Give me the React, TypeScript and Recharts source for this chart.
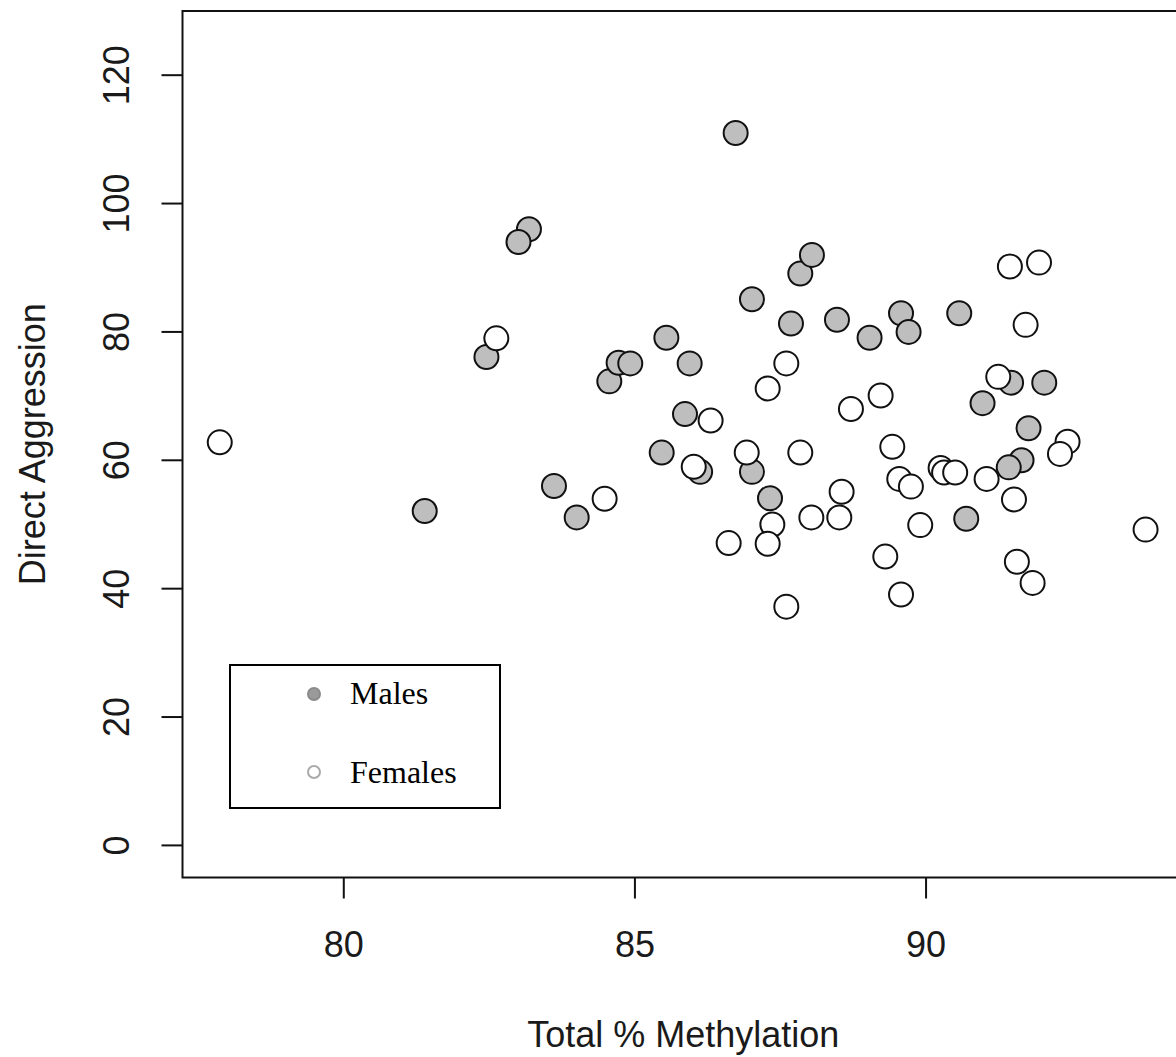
import { ScatterChart, Scatter, XAxis, YAxis, ReferenceArea, Legend } from 'recharts'

// Total % Methylation / Direct Aggression
const malesX = [
  86.73, 83.18, 83.0, 82.45, 81.39, 83.61, 84.0, 84.56, 84.72, 84.92, 85.54,
  85.94, 85.86, 85.46, 86.12, 87.01, 87.68, 87.84, 88.04, 88.47, 89.03, 89.57,
  89.7, 87.01, 87.32, 90.57, 90.69, 90.97, 91.46, 92.03, 91.76, 91.64, 91.42,
]
const malesY = [
  111, 96, 94, 76.1, 52.1, 56, 51.1, 72.3, 75.2, 75.1, 79.1,
  75.1, 67.2, 61.2, 58.2, 85.1, 81.3, 89.1, 92, 81.9, 79.1, 82.9,
  80, 58.2, 54.1, 82.9, 50.9, 68.9, 72.1, 72.1, 65, 60, 58.9,
]
const femalesX = [
  77.87, 82.62, 84.48, 86.3, 86.01, 86.61, 86.92, 87.28, 87.6, 87.84, 87.36,
  87.28, 87.6, 88.03, 88.51, 88.55, 88.71, 89.22, 89.3, 89.42, 89.54, 89.74,
  89.9, 89.57, 90.25, 90.31, 90.5, 91.04, 91.51, 91.56, 91.83, 91.44, 91.94,
  91.71, 91.24, 92.43, 92.3, 93.77,
]
const femalesY = [
  62.8, 79, 54, 66.2, 59, 47.1, 61.2, 71.2, 75.1, 61.2, 50,
  47, 37.2, 51.1, 51.1, 55.1, 68, 70.1, 45, 62.1, 57.1, 55.9,
  49.9, 39.1, 58.8, 58.1, 58.1, 57.1, 53.9, 44.2, 40.9, 90.2, 90.8,
  81.1, 73, 62.9, 61, 49.2,
]
const xTicks = [80, 85, 90]
const yTicks = [0, 20, 40, 60, 80, 100, 120]

const males = malesX.map((x, i) => ({ x, y: malesY[i] }))
const females = femalesX.map((x, i) => ({ x, y: femalesY[i] }))

const X_DOMAIN = [77.23, 94.43]
const Y_DOMAIN = [-5, 130]
const SANS = '"Liberation Sans", Arial, sans-serif'

const dot = (fill: string) => (props: any) => (
  <circle cx={props.cx} cy={props.cy} r={12} fill={fill} stroke="#111" strokeWidth={2} />
)

const XTick = (props: any) => (
  <text x={props.x} y={props.y + 56} textAnchor="middle" fontFamily={SANS} fontSize={36} fill="#1a1a1a">
    {props.payload.value}
  </text>
)

const YTick = (props: any) => (
  <text
    transform={`translate(129, ${props.y}) rotate(-90)`}
    textAnchor="middle"
    fontFamily={SANS}
    fontSize={36}
    fill="#1a1a1a"
  >
    {props.payload.value}
  </text>
)

const LegendBox = () => (
  <div style={{ width: 272, height: 145, border: '2px solid #000', boxSizing: 'border-box', background: '#fff' }}>
    <svg width={268} height={141} style={{ display: 'block' }}>
      <circle cx={83} cy={28} r={6} fill="#9a9a9a" stroke="#8a8a8a" strokeWidth={2} />
      <circle cx={83} cy={106} r={6} fill="#fff" stroke="#aaa" strokeWidth={2} />
      <text x={119} y={38} fontFamily='"Liberation Serif", "Times New Roman", serif' fontSize={32} fill="#000">
        Males
      </text>
      <text x={119} y={117} fontFamily='"Liberation Serif", "Times New Roman", serif' fontSize={32} fill="#000">
        Females
      </text>
    </svg>
  </div>
)

export default function App() {
  return (
    <div style={{ position: 'absolute', left: 0, top: 0, width: 1176, height: 1057, overflow: 'hidden', background: '#fff' }}>
      <ScatterChart width={1200} height={1057} margin={{ top: 11, right: 16, bottom: 119.5, left: 122.5 }}>
        <XAxis
          type="number"
          dataKey="x"
          domain={X_DOMAIN}
          ticks={xTicks}
          allowDataOverflow
          height={60}
          axisLine={false}
          tickLine={{ stroke: '#111', strokeWidth: 2 }}
          tickSize={21}
          tick={<XTick />}
          label={{
            value: 'Total % Methylation',
            content: (p: any) => (
              <text
                x={p.viewBox.x + p.viewBox.width / 2}
                y={1047}
                textAnchor="middle"
                fontFamily={SANS}
                fontSize={36}
                fill="#1a1a1a"
              >
                Total % Methylation
              </text>
            ),
          }}
        />
        <YAxis
          type="number"
          dataKey="y"
          domain={Y_DOMAIN}
          ticks={yTicks}
          allowDataOverflow
          width={60}
          axisLine={false}
          tickLine={{ stroke: '#111', strokeWidth: 2 }}
          tickSize={21}
          tick={<YTick />}
          label={{
            value: 'Direct Aggression',
            content: (p: any) => (
              <text
                transform={`translate(45, ${p.viewBox.y + p.viewBox.height / 2}) rotate(-90)`}
                textAnchor="middle"
                fontFamily={SANS}
                fontSize={36}
                fill="#1a1a1a"
              >
                Direct Aggression
              </text>
            ),
          }}
        />
        <ReferenceArea
          x1={X_DOMAIN[0]}
          x2={X_DOMAIN[1]}
          y1={Y_DOMAIN[0]}
          y2={Y_DOMAIN[1]}
          fill="none"
          fillOpacity={0}
          stroke="#111"
          strokeWidth={2}
        />
        <Legend
          layout="horizontal"
          verticalAlign="middle"
          align="center"
          content={<LegendBox />}
          wrapperStyle={{ position: 'absolute', left: 229, top: 664, width: 272, height: 145 }}
        />
        <Scatter name="Males" data={males} shape={dot('#bebebe')} isAnimationActive={false} />
        <Scatter name="Females" data={females} shape={dot('#ffffff')} isAnimationActive={false} />
      </ScatterChart>
    </div>
  )
}
